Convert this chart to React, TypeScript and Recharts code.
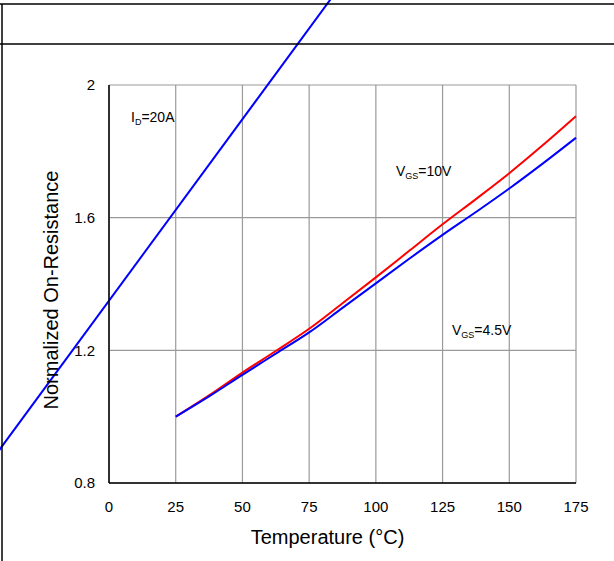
import { LineChart, Line, XAxis, YAxis, CartesianGrid, ReferenceLine } from "recharts";

// temperature (°C)
const temps = [25, 37.5, 50, 62.5, 75, 87.5, 100, 112.5, 125, 137.5, 150, 162.5, 175];
// normalized RDS(on), VGS = 10V (red)
const vgs10 = [1.0, 1.064, 1.133, 1.198, 1.265, 1.342, 1.42, 1.5, 1.58, 1.656, 1.734, 1.818, 1.906];
// normalized RDS(on), VGS = 4.5V (blue)
const vgs45 = [1.0, 1.061, 1.126, 1.19, 1.254, 1.328, 1.402, 1.476, 1.548, 1.617, 1.688, 1.763, 1.841];

const xTicks = [0, 25, 50, 75, 100, 125, 150, 175];
const yTicks = [0.8, 1.2, 1.6, 2];

// stray straight blue trace that runs off the plot
const strayLine = [
  { x: -45, y: 0.857 },
  { x: 86, y: 2.291 },
];

const data = temps.map((t, i) => ({ t, vgs10: vgs10[i], vgs45: vgs45[i] }));

const FONT = "'Liberation Sans', Arial, sans-serif";

const YTitle = () => (
  <text
    x={58}
    y={290}
    transform="rotate(-90 58 290)"
    textAnchor="middle"
    fontSize={20}
    fontFamily={FONT}
    fill="#000"
  >
    Normalized On-Resistance
  </text>
);

export default function App() {
  return (
    <div style={{ position: "absolute", left: 0, top: 0, width: 614, height: 561, background: "#fff", fontFamily: FONT }}>
      <LineChart
        width={614}
        height={561}
        data={data}
        margin={{ top: 85, right: 38, bottom: 0, left: 0 }}
      >
        <CartesianGrid stroke="#9a9a9a" strokeWidth={1.2} />
        <XAxis
          dataKey="t"
          type="number"
          domain={[0, 175]}
          ticks={xTicks}
          height={78}
          tickSize={0}
          tickMargin={18}
          tick={{ fontSize: 15, fill: "#000", fontFamily: FONT }}
          axisLine={{ stroke: "#000", strokeWidth: 1.5 }}
          label={{
            value: "Temperature (°C)",
            position: "insideTop",
            offset: 47,
            dx: -15,
            fontSize: 20,
            fill: "#000",
            fontFamily: FONT,
          }}
        />
        <YAxis
          type="number"
          domain={[0.8, 2]}
          ticks={yTicks}
          width={109}
          tickSize={0}
          tickMargin={14}
          tick={{ fontSize: 15, fill: "#000", fontFamily: FONT }}
          axisLine={{ stroke: "#000", strokeWidth: 1.5 }}
          label={<YTitle />}
        />
        <ReferenceLine
          segment={strayLine}
          ifOverflow="visible"
          stroke="#0000ff"
          strokeWidth={2}
        />
        <Line
          dataKey="vgs10"
          type="monotone"
          stroke="#ff0000"
          strokeWidth={2}
          dot={false}
          isAnimationActive={false}
        />
        <Line
          dataKey="vgs45"
          type="monotone"
          stroke="#0000ff"
          strokeWidth={2}
          dot={false}
          isAnimationActive={false}
        />
      </LineChart>
      <svg
        width={614}
        height={561}
        style={{ position: "absolute", left: 0, top: 0, pointerEvents: "none" }}
        fontFamily={FONT}
      >
        <line x1={0} y1={4} x2={614} y2={4} stroke="#000" strokeWidth={1.5} />
        <line x1={0} y1={44} x2={614} y2={44} stroke="#000" strokeWidth={1.5} />
        <line x1={2} y1={4} x2={2} y2={561} stroke="#000" strokeWidth={1.5} />
        <text x={131} y={122} fontSize={14} fill="#000">
          I<tspan fontSize={9} dy={3}>D</tspan>
          <tspan dy={-3}>=20A</tspan>
        </text>
        <text x={396} y={176} fontSize={14} fill="#000">
          V<tspan fontSize={9} dy={3}>GS</tspan>
          <tspan dy={-3}>=10V</tspan>
        </text>
        <text x={452} y={335} fontSize={14} fill="#000">
          V<tspan fontSize={9} dy={3}>GS</tspan>
          <tspan dy={-3}>=4.5V</tspan>
        </text>
      </svg>
    </div>
  );
}
